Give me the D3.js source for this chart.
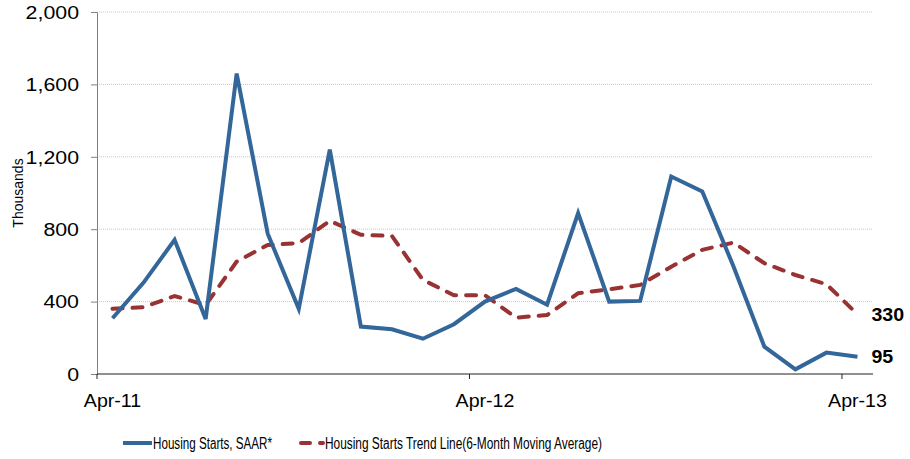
<!DOCTYPE html>
<html>
<head>
<meta charset="utf-8">
<script src="https://cdn.jsdelivr.net/npm/d3@7"></script>
<style>
  body { margin: 0; background: #fff; }
  svg { font-family: "Liberation Sans", Arial, sans-serif; }
</style>
</head>
<body>
<div id="chart"></div>
<script>
// monthly, Apr-11 .. Apr-13
var months = ["Apr-11","May-11","Jun-11","Jul-11","Aug-11","Sep-11","Oct-11","Nov-11","Dec-11",
              "Jan-12","Feb-12","Mar-12","Apr-12","May-12","Jun-12","Jul-12","Aug-12","Sep-12",
              "Oct-12","Nov-12","Dec-12","Jan-13","Feb-13","Mar-13","Apr-13"];
var starts = [308, 505, 741, 304, 1660, 775, 360, 1240, 262, 247, 195, 275, 400,
              470, 383, 889, 400, 404, 1091, 1008, 597, 151, 26, 118, 95];
var trend = [360, 369, 431, 381, 621, 713, 723, 846, 769, 763, 520, 435, 435,
             311, 326, 446, 468, 492, 593, 686, 726, 612, 547, 496, 330];
var yTicks = [0, 400, 800, 1200, 1600, 2000];
var xLabels = ["Apr-11", "Apr-12", "Apr-13"];
var seriesNames = ["Housing Starts, SAAR*", "Housing Starts Trend Line(6-Month Moving Average)"];

var width = 910, height = 459;
var margin = {top: 12, right: 37, bottom: 85, left: 97};
var blue = "#336699", red = "#993333";

// the source rendering is a bit wider than Liberation Sans, stretch the glyphs
var widen = function(sel, k) {
    sel.each(function() {
        var w = this.getComputedTextLength();
        d3.select(this).attr("textLength", w * k).attr("lengthAdjust", "spacingAndGlyphs");
    });
};

var svg = d3.select("#chart").append("svg")
    .attr("width", width)
    .attr("height", height);

var x = d3.scaleBand()
    .domain(months)
    .range([margin.left, width - margin.right]);

var y = d3.scaleLinear()
    .domain([0, 2000])
    .range([height - margin.bottom, margin.top]);

// gridlines
svg.append("g")
    .selectAll("line")
    .data(yTicks.filter(function(d) { return d > 0; }))
    .enter().append("line")
    .attr("x1", margin.left)
    .attr("x2", width - margin.right)
    .attr("y1", function(d) { return y(d); })
    .attr("y2", function(d) { return y(d); })
    .style("stroke", "#c8c8c8")
    .style("stroke-width", 1)
    .style("stroke-dasharray", "1,1");

// y axis
var yAxis = d3.axisLeft(y)
    .tickValues(yTicks)
    .tickFormat(d3.format(","))
    .tickSize(6)
    .tickPadding(12);

var gy = svg.append("g")
    .attr("transform", "translate(" + margin.left + ",0)")
    .call(yAxis);
gy.select(".domain").style("stroke", "#808080");
gy.selectAll(".tick line").style("stroke", "#808080");
gy.selectAll("text")
    .style("font-size", "17.5px")
    .style("fill", "#000")
    .attr("dy", "0.36em")
    .call(widen, 1.22);

// x axis: ticks at the start of the labelled bands, labels centred
var gx = svg.append("g")
    .attr("transform", "translate(0," + y(0) + ")");
gx.append("line")
    .attr("x1", margin.left)
    .attr("x2", width - margin.right)
    .style("stroke", "#222")
    .style("stroke-width", 1.2);
gx.selectAll(".xtick")
    .data(xLabels)
    .enter().append("line")
    .attr("class", "xtick")
    .attr("x1", function(d) { return x(d); })
    .attr("x2", function(d) { return x(d); })
    .attr("y1", 0)
    .attr("y2", 5)
    .style("stroke", "#222");
gx.selectAll(".xlabel")
    .data(xLabels)
    .enter().append("text")
    .attr("class", "xlabel")
    .attr("x", function(d) { return x(d) + x.bandwidth() / 2; })
    .attr("y", 33)
    .attr("text-anchor", "middle")
    .style("font-size", "17.5px")
    .text(function(d) { return d; })
    .call(widen, 1.12);

// y title
svg.append("text")
    .attr("transform", "translate(23,193) rotate(-90)")
    .attr("text-anchor", "middle")
    .style("font-size", "14px")
    .text("Thousands");

var line = d3.line()
    .x(function(d, i) { return x(months[i]) + x.bandwidth() / 2; })
    .y(function(d) { return y(d); });

svg.append("path")
    .datum(trend)
    .attr("d", line)
    .style("fill", "none")
    .style("stroke", red)
    .style("stroke-width", 4)
    .style("stroke-dasharray", "10,10")
    .style("stroke-linecap", "round");

svg.append("path")
    .datum(starts)
    .attr("d", line)
    .style("fill", "none")
    .style("stroke", blue)
    .style("stroke-width", 4)
    .style("stroke-linejoin", "miter");

// end labels
var lastX = x(months[months.length - 1]) + x.bandwidth() / 2;
[trend, starts].forEach(function(s) {
    svg.append("text")
        .attr("x", lastX + 14)
        .attr("y", y(s[s.length - 1]))
        .attr("dy", "0.36em")
        .style("font-size", "17.5px")
        .style("font-weight", "bold")
        .text(s[s.length - 1])
        .call(widen, 1.12);
});

// legend
var lg = svg.append("g").attr("transform", "translate(0,443)");
lg.append("line")
    .attr("x1", 123).attr("x2", 152)
    .style("stroke", blue).style("stroke-width", 4);
lg.append("text")
    .attr("x", 153).attr("dy", "0.36em")
    .attr("textLength", 119).attr("lengthAdjust", "spacingAndGlyphs")
    .style("font-size", "16px")
    .text(seriesNames[0]);
lg.append("line")
    .attr("x1", 301).attr("x2", 323)
    .style("stroke", red).style("stroke-width", 4)
    .style("stroke-dasharray", "9,10").style("stroke-linecap", "round");
lg.append("text")
    .attr("x", 325).attr("dy", "0.36em")
    .attr("textLength", 277).attr("lengthAdjust", "spacingAndGlyphs")
    .style("font-size", "16px")
    .text(seriesNames[1]);
</script>
</body>
</html>
